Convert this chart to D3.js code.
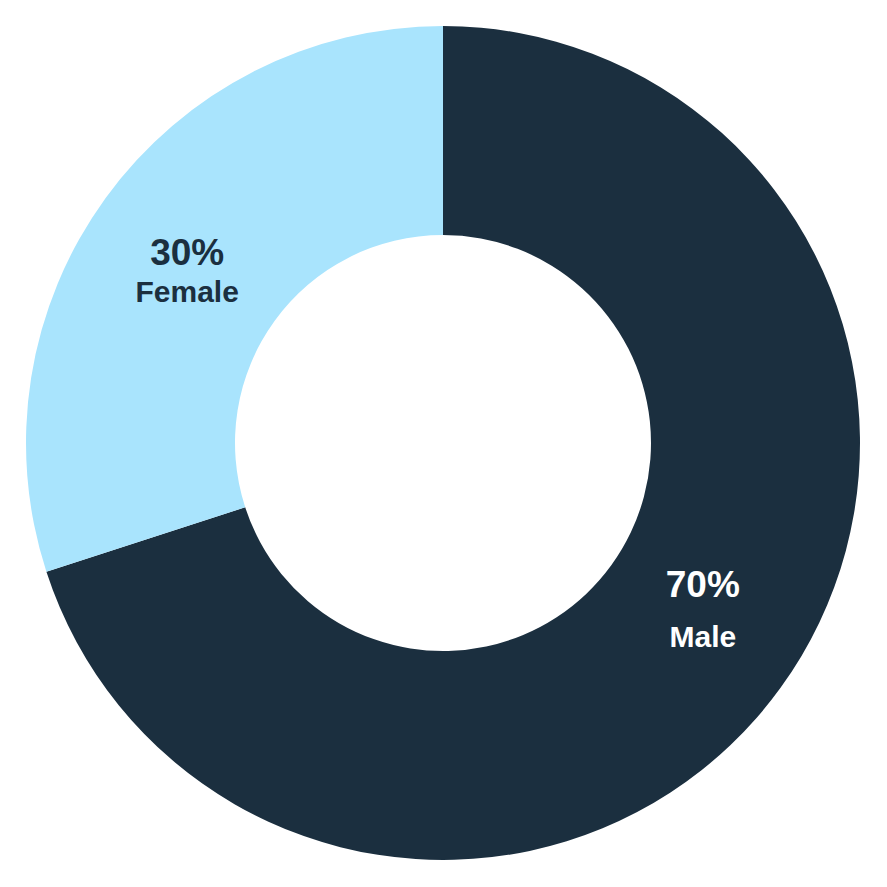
<!DOCTYPE html>
<html>
<head>
<meta charset="utf-8">
<script src="https://cdn.jsdelivr.net/npm/d3@7"></script>
<style>
  html, body { margin: 0; padding: 0; background: #ffffff; }
  svg { display: block; }
  text { font-family: "Liberation Sans", Arial, sans-serif; font-weight: bold; }
</style>
</head>
<body>
<svg id="chart" width="887" height="887"></svg>
<script>
const categories = ["Male", "Female"];
const values = [70, 30];
const percentLabels = ["70%", "30%"];

const colors = { "Male": "#1b2f3f", "Female": "#a9e4fd" };
const textColors = { "Male": "#ffffff", "Female": "#1b2f3f" };
// label line offsets relative to arc centroid (dx, dy of pct line, dy of name line)
const labelOffsets = { "Male": [7, -30, 20], "Female": [-3, 6, 43] };

const W = 887, H = 887;
const cx = 443, cy = 443;
const outerR = 417, innerR = 208;

const svg = d3.select("#chart");
const g = svg.append("g").attr("transform", `translate(${cx},${cy})`);

const data = categories.map((c, i) => ({ cat: c, value: values[i], pct: percentLabels[i] }));

const pie = d3.pie().sort(null).value(d => d.value);
const arc = d3.arc().innerRadius(innerR).outerRadius(outerR);

const arcs = pie(data);

g.selectAll("path.slice")
  .data(arcs)
  .join("path")
  .attr("class", "slice")
  .attr("d", arc)
  .attr("fill", d => colors[d.data.cat]);

const labels = g.selectAll("g.label")
  .data(arcs)
  .join("g")
  .attr("class", "label")
  .attr("transform", d => {
    const [x, y] = arc.centroid(d);
    return `translate(${x + labelOffsets[d.data.cat][0]},${y})`;
  });

labels.append("text")
  .attr("text-anchor", "middle")
  .attr("y", d => labelOffsets[d.data.cat][1])
  .attr("font-size", 37)
  .attr("fill", d => textColors[d.data.cat])
  .text(d => d.data.pct);

labels.append("text")
  .attr("text-anchor", "middle")
  .attr("y", d => labelOffsets[d.data.cat][2])
  .attr("font-size", 30)
  .attr("fill", d => textColors[d.data.cat])
  .text(d => d.data.cat);
</script>
</body>
</html>
